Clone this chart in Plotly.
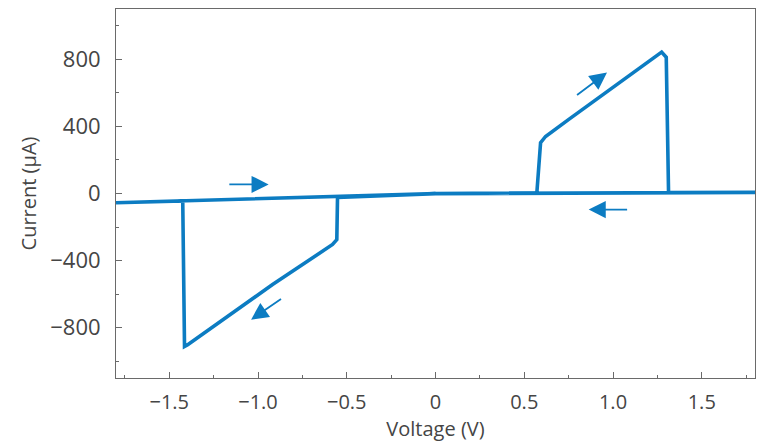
import plotly.graph_objects as go

# Voltage (V) and current (µA) along the hysteresis sweep
voltage = [0.0, 0.571, 0.592, 0.620, 0.751, 1.012, 1.274, 1.300, 1.313, 1.8,
           0.0, -0.552, -0.556, -0.580, -0.918, -1.396, -1.414, -1.424, -1.8, 0.0]
current = [-1, 4, 303, 340, 442, 642, 843, 812, 5, 7,
           -1, -24, -275, -304, -543, -901, -912, -44, -55, -1]

# Sweep-direction arrows: (tail x, tail y, head x, head y)
arrow_tail_x = [-1.17, 1.088, 0.789, -0.862]
arrow_tail_y = [54, -96, 581, -623]
arrow_head_x = [-0.94, 0.863, 0.966, -1.039]
arrow_head_y = [54, -96, 721, -752]

x_tickvals = [-1.5, -1.0, -0.5, 0, 0.5, 1.0, 1.5]
x_ticktext = ["\u22121.5", "\u22121.0", "\u22120.5", "0", "0.5", "1.0", "1.5"]
y_tickvals = [-800, -400, 0, 400, 800]
y_ticktext = ["\u2212800", "\u2212400", "0", "400", "800"]

blue = "#0c7cc2"
axis_col = "#6a6a6a"
text_col = "#454545"
font_family = "Open Sans, Lato, sans-serif"

fig = go.Figure()
fig.add_trace(go.Scatter(x=voltage, y=current, mode="lines",
                         line=dict(color=blue, width=3.6),
                         hoverinfo="skip", showlegend=False))

for tx, ty, hx, hy in zip(arrow_tail_x, arrow_tail_y, arrow_head_x, arrow_head_y):
    fig.add_annotation(x=hx, y=hy, ax=tx, ay=ty, xref="x", yref="y",
                       axref="x", ayref="y", text="", showarrow=True,
                       arrowhead=2, arrowsize=1.9, arrowwidth=1.8,
                       arrowcolor=blue)

fig.update_layout(
    width=757, height=444,
    margin=dict(l=116, r=2, t=9, b=66),
    paper_bgcolor="white", plot_bgcolor="white",
    font=dict(family=font_family, color=text_col, size=20),
    xaxis=dict(range=[-1.8, 1.8], tickvals=x_tickvals, ticktext=x_ticktext,
               showgrid=False, zeroline=False, showline=True, mirror=True,
               linecolor=axis_col, linewidth=1, ticks="inside", ticklen=6,
               tickcolor=axis_col, tickwidth=1, ticklabelstandoff=6,
               minor=dict(dtick=0.25, tick0=0, ticks="inside", ticklen=3,
                          tickcolor=axis_col, showgrid=False),
               tickfont=dict(size=20, color=text_col),
               title=dict(text="Voltage (V)", font=dict(size=20, color=text_col),
                          standoff=4)),
    yaxis=dict(range=[-1100, 1100], tickvals=y_tickvals, ticktext=y_ticktext,
               showgrid=False, zeroline=False, showline=True, mirror=True,
               linecolor=axis_col, linewidth=1, ticks="inside", ticklen=6,
               tickcolor=axis_col, tickwidth=1, ticklabelstandoff=10,
               minor=dict(dtick=200, tick0=0, ticks="inside", ticklen=3,
                          tickcolor=axis_col, showgrid=False),
               tickfont=dict(size=22, color=text_col),
               title=dict(text="Current (\u03bcA)", font=dict(size=20, color=text_col),
                          standoff=8)),
)

fig.write_html("out.html", config={"displayModeBar": False},
               post_script="document.body.style.margin='0';document.body.style.overflow='hidden';")
